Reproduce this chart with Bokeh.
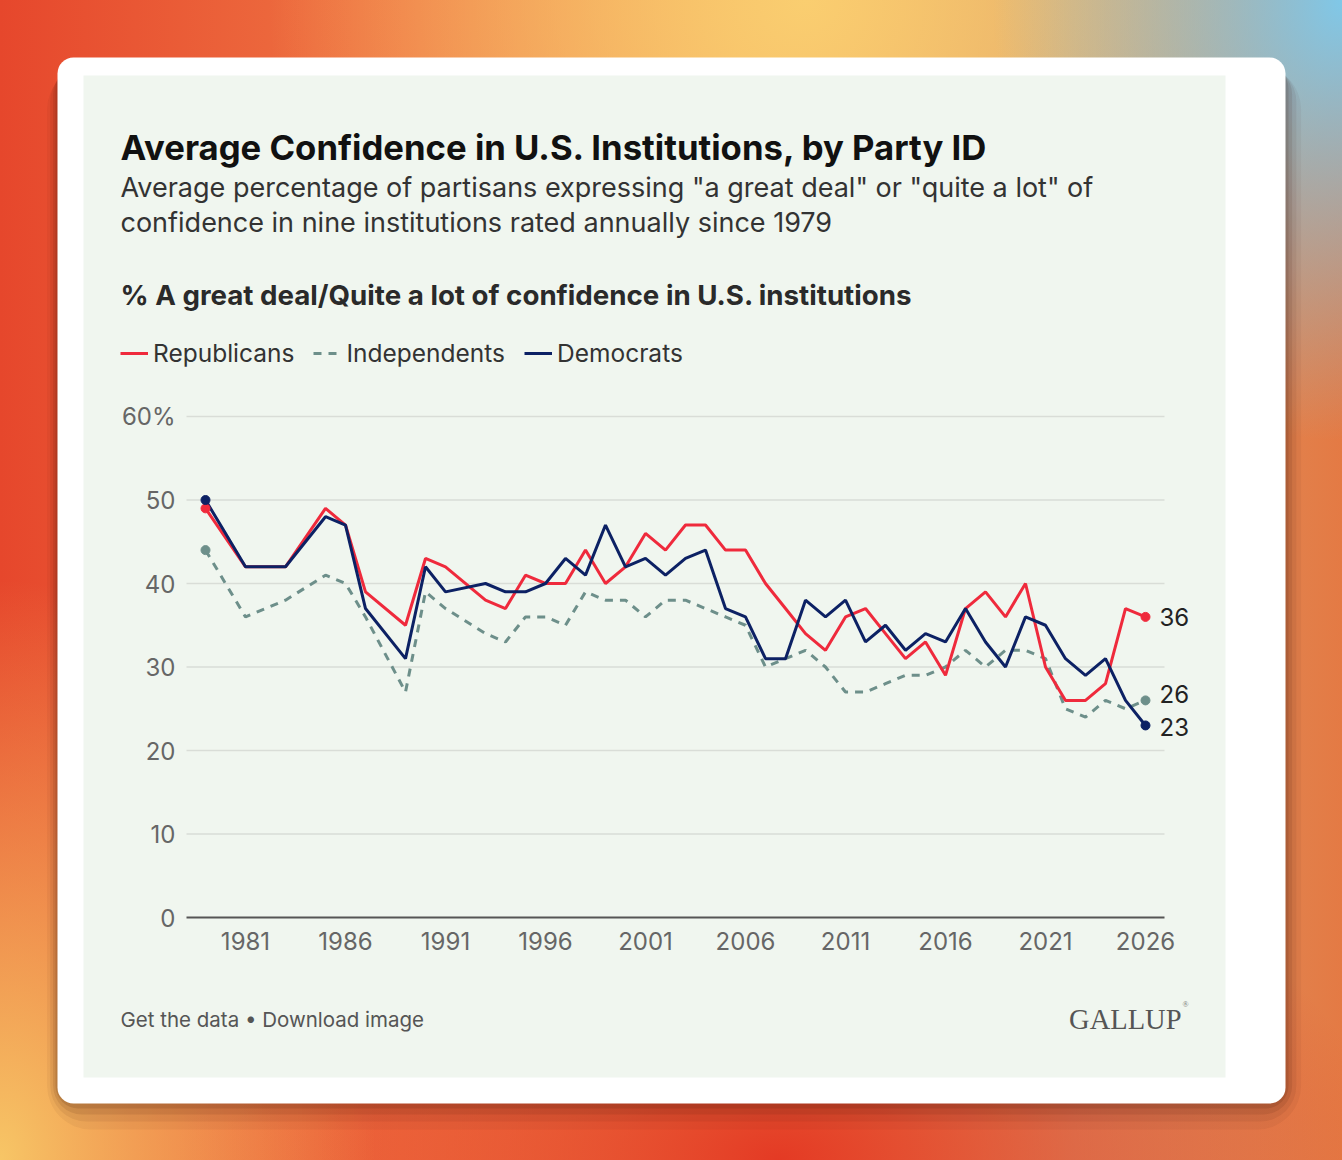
from bokeh.plotting import figure
from bokeh.models import (Range1d, Label, BoxAnnotation, Legend,
                          LegendItem, GlobalInlineStyleSheet)
from bokeh.embed import file_html
from bokeh.resources import INLINE


years = [1979, 1981, 1983, 1985, 1986, 1987, 1989, 1990, 1991,
         1993, 1994, 1995, 1996, 1997, 1998, 1999, 2000,
         2001, 2002, 2003, 2004, 2005, 2006, 2007, 2008, 2009, 2010,
         2011, 2012, 2013, 2014, 2015, 2016, 2017, 2018, 2019, 2020,
         2021, 2022, 2023, 2024, 2025, 2026]
republicans = [49, 42, 42, 49, 47, 39, 35, 43, 42,
               38, 37, 41, 40, 40, 44, 40, 42,
               46, 44, 47, 47, 44, 44, 40, 37, 34, 32,
               36, 37, 34, 31, 33, 29, 37, 39, 36, 40,
               30, 26, 26, 28, 37, 36]
independents = [44, 36, 38, 41, 40, 36, 27, 39, 37,
                34, 33, 36, 36, 35, 39, 38, 38,
                36, 38, 38, 37, 36, 35, 30, 31, 32, 30,
                27, 27, 28, 29, 29, 30, 32, 30, 32, 32,
                31, 25, 24, 26, 25, 26]
democrats = [50, 42, 42, 48, 47, 37, 31, 42, 39,
             40, 39, 39, 40, 43, 41, 47, 42,
             43, 41, 43, 44, 37, 36, 31, 31, 38, 36,
             38, 33, 35, 32, 34, 33, 37, 33, 30, 36,
             35, 31, 29, 31, 26, 23]
x_ticks = [1981, 1986, 1991, 1996, 2001, 2006, 2011, 2016, 2021, 2026]
x_tick_labels = ["1981", "1986", "1991", "1996", "2001", "2006", "2011", "2016", "2021", "2026"]
y_ticks = [0, 10, 20, 30, 40, 50, 60]
y_tick_labels = ["0", "10", "20", "30", "40", "50", "60%"]

RED = "#ef2a3c"
NAVY = "#0c2164"
TEAL = "#6d8f8a"
PANEL = "#f0f6ef"
FONT = "Inter"

# the frame fills the whole canvas; chart area inside it
W, H = 1342, 1160
PX_YEAR = 20.0          # pixels per year
PX_PCT = 8.35           # pixels per percentage point
X0_PX, X0_YEAR = 205, 1979
Y0_PX = 917             # pixel row of 0%
X_LO, X_HI = 1978.05, 2026.95   # extent of gridlines / axis line

x_start = X0_YEAR - X0_PX / PX_YEAR
y_start = -(H - Y0_PX) / PX_PCT

p = figure(width=W, height=H, output_backend="svg", toolbar_location=None,
           x_range=Range1d(x_start, x_start + W / PX_YEAR),
           y_range=Range1d(y_start, y_start + H / PX_PCT),
           x_axis_location=None, y_axis_location=None, title=None,
           min_border=0, min_border_left=0, min_border_right=0,
           min_border_top=0, min_border_bottom=0)
p.border_fill_alpha = 0
p.background_fill_alpha = 0
p.outline_line_color = None
p.grid.visible = False

bg_css = """
html { overflow: hidden;
  background-color: #ec6c3e;
  background-image:
    radial-gradient(ellipse 26% 38% at 100% 0%, rgba(128,200,232,1), rgba(128,200,232,0)),
    radial-gradient(ellipse 40% 45% at 60% 0%, rgba(250,206,112,1), rgba(250,206,112,0)),
    radial-gradient(ellipse 28% 50% at 0% 100%, rgba(247,198,102,1), rgba(247,198,102,0)),
    radial-gradient(ellipse 45% 30% at 58% 100%, rgba(228,58,36,1), rgba(228,58,36,0)),
    linear-gradient(90deg, #e6472c 0%, #ef7644 30%, #f0a058 55%, #d89a6a 80%, #e47a44 100%);
}
body { overflow: hidden; background: transparent; }
"""
p.stylesheets = [GlobalInlineStyleSheet(css=bg_css)]


def box(l, r, t, b, **kw):
    return BoxAnnotation(left=l, right=r, top=H - t, bottom=H - b,
                         left_units="screen", right_units="screen",
                         top_units="screen", bottom_units="screen",
                         line_color=None, level="image", **kw)


# card shadow, card, panel
for k, a in [(26, 0.05), (18, 0.07), (11, 0.10), (5, 0.13)]:
    p.add_layout(box(57 - k * 0.4, 1285 + k * 0.6, 57 + 8, 1103 + k,
                     fill_color="#3a140a", fill_alpha=a, border_radius=18 + k))
p.add_layout(box(57, 1285, 57, 1103, fill_color="white", fill_alpha=1, border_radius=16))
p.add_layout(box(83, 1225, 75, 1077, fill_color=PANEL, fill_alpha=1))

# gridlines and axis line
p.segment(x0=[X_LO] * len(y_ticks[1:]), x1=[X_HI] * len(y_ticks[1:]),
          y0=y_ticks[1:], y1=y_ticks[1:], line_color="#d9ddd7", line_width=1.5)
p.segment(x0=[X_LO], x1=[X_HI], y0=[y_ticks[0]], y1=[y_ticks[0]],
          line_color="#555555", line_width=2)

# tick labels
p.text(x=x_ticks, y=[0] * len(x_ticks), text=x_tick_labels, y_offset=14,
       text_align="center", text_baseline="top", text_font={"value": FONT},
       text_font_size={"value": "24px"}, text_color="#666666")
p.text(x=[X_LO] * len(y_ticks), y=y_ticks, text=y_tick_labels, x_offset=-11,
       text_align="right", text_baseline="middle", text_font={"value": FONT},
       text_font_size={"value": "24px"}, text_color="#666666")

# series
r_ind = p.line(years, independents, line_color=TEAL, line_width=3, line_dash="8 7")
r_rep = p.line(years, republicans, line_color=RED, line_width=3)
r_dem = p.line(years, democrats, line_color=NAVY, line_width=3)
for vals, col in [(independents, TEAL), (republicans, RED), (democrats, NAVY)]:
    p.scatter([years[0], years[-1]], [vals[0], vals[-1]], size=9,
              fill_color=col, line_color=col)

# end labels
for vals, off in [(republicans, 0), (independents, 6), (democrats, -2)]:
    p.add_layout(Label(x=years[-1], y=vals[-1], x_offset=14, y_offset=off,
                       text=str(vals[-1]), text_font=FONT, text_font_size="24px",
                       text_color="#222222", text_baseline="middle"))

legend = Legend(items=[LegendItem(label="Republicans", renderers=[r_rep]),
                       LegendItem(label="Independents", renderers=[r_ind]),
                       LegendItem(label="Democrats", renderers=[r_dem])],
                orientation="horizontal", location=(120, H - 368),
                background_fill_alpha=0, border_line_alpha=0,
                label_text_font=FONT, label_text_font_size="24.5px",
                label_text_color="#333333", glyph_width=28, glyph_height=26,
                label_height=26, label_standoff=5, spacing=19, padding=0, margin=0)
p.add_layout(legend)

# titles and footer
texts = [
    ("Average Confidence in U.S. Institutions, by Party ID", 120, 146, "34.7px", "bold", "#111111", FONT),
    ("Average percentage of partisans expressing \"a great deal\" or \"quite a lot\" of", 120, 187, "27px", "normal", "#333333", FONT),
    ("confidence in nine institutions rated annually since 1979", 120, 222, "27px", "normal", "#333333", FONT),
    ("% A great deal/Quite a lot of confidence in U.S. institutions", 120, 294, "27.7px", "bold", "#2a2a2a", FONT),
    ("Get the data \u2022 Download image", 120, 1019, "20.5px", "normal", "#555555", FONT),
]
for t, ix, iy, fs, st, col, fnt in texts:
    p.add_layout(Label(x=ix, y=H - iy, x_units="screen", y_units="screen",
                       text=t, text_font=fnt, text_font_size=fs, text_font_style=st,
                       text_color=col, text_baseline="alphabetic"))
p.add_layout(Label(x=1181, y=H - 1019, x_units="screen", y_units="screen",
                   text="GALLUP", text_font="Liberation Serif", text_font_size="28.5px",
                   text_color="#555555", text_align="right", text_baseline="alphabetic"))
p.add_layout(Label(x=1182, y=H - 1004, x_units="screen", y_units="screen",
                   text="\u00ae", text_font="Liberation Serif", text_font_size="8px",
                   text_color="#777777", text_baseline="alphabetic"))

open("out.html", "w").write(file_html(p, INLINE))
